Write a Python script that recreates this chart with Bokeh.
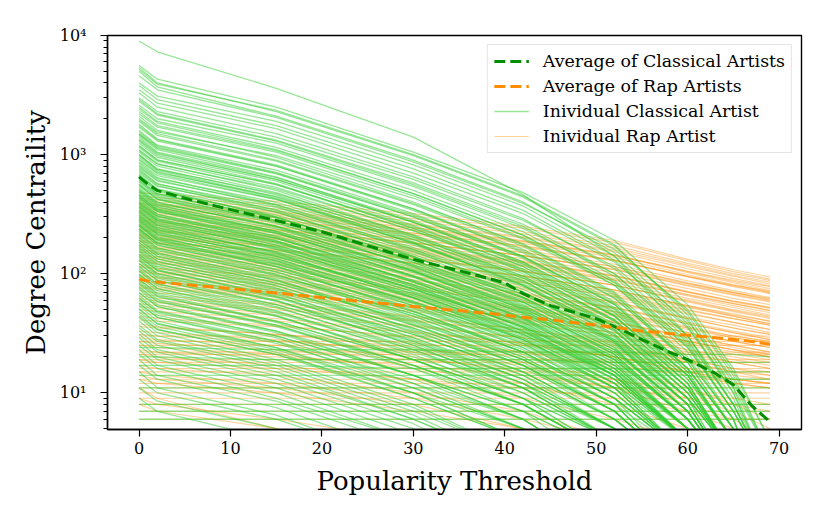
from bokeh.plotting import figure
from bokeh.models import Range1d, FixedTicker, CustomJSTickFormatter, Legend, LegendItem
from bokeh.embed import file_html
from bokeh.resources import INLINE

# popularity thresholds at which each artist's degree is listed
thresholds = [0, 2, 15, 30, 42, 52, 60, 65, 69]

classical_lines = [
    [9000, 7300, 3600, 1400, 460, 140, 30, 8, 2],
    [5600, 4300, 2500, 1050, 480, 190, 55, 16, 4],
    [5400, 4000, 2300, 980, 440, 170, 48, 14, 3],
    [5200, 3900, 2350, 1000, 450, 175, 45, 12, 3],
    [5000, 3700, 2100, 900, 400, 150, 42, 11, 2],
    [4600, 3500, 2050, 870, 390, 160, 50, 15, 4],
    [4000, 3100, 1900, 820, 370, 140, 38, 10, 2],
    [3800, 2900, 1750, 760, 340, 130, 36, 10, 2],
    [3500, 2700, 1650, 700, 320, 125, 40, 13, 3],
    [3300, 2500, 1500, 650, 290, 110, 30, 8, 2],
    [3000, 2300, 1400, 620, 280, 115, 35, 11, 3],
    [2900, 2200, 1320, 580, 260, 100, 28, 8, 2],
    [2800, 2150, 1300, 560, 250, 95, 26, 7, 2],
    [2600, 2000, 1250, 540, 240, 100, 30, 9, 2],
    [2500, 1900, 1150, 500, 225, 88, 25, 7, 2],
    [2400, 1850, 1100, 470, 210, 80, 22, 6, 1],
    [2300, 1750, 1080, 470, 212, 84, 24, 7, 2],
    [2200, 1700, 1050, 450, 200, 85, 27, 8, 2],
    [2100, 1600, 950, 400, 175, 68, 18, 5, 1],
    [2000, 1550, 980, 430, 195, 80, 24, 7, 2],
    [1950, 1500, 900, 390, 178, 70, 20, 6, 1],
    [1900, 1450, 880, 380, 170, 66, 19, 6, 1],
    [1800, 1350, 820, 350, 150, 58, 16, 5, 1],
    [1750, 1330, 800, 350, 160, 63, 18, 5, 1],
    [1700, 1300, 800, 340, 155, 62, 19, 6, 1],
    [1600, 1200, 740, 320, 140, 55, 15, 4, 1],
    [1550, 1180, 710, 310, 140, 56, 16, 5, 1],
    [1500, 1150, 700, 300, 135, 52, 16, 5, 1],
    [1480, 1130, 690, 300, 138, 55, 16, 5, 1],
    [1450, 1100, 650, 270, 120, 45, 12, 3, 1],
    [1400, 1050, 640, 280, 125, 50, 14, 4, 1],
    [1350, 1030, 620, 270, 122, 48, 14, 4, 1],
    [1320, 1010, 620, 272, 126, 51, 15, 4, 1],
    [1300, 980, 600, 255, 115, 44, 13, 4, 1],
    [1250, 950, 570, 240, 105, 40, 11, 3, 1],
    [1200, 900, 560, 240, 110, 44, 14, 4, 1],
    [1180, 905, 560, 248, 115, 47, 14, 4, 1],
    [1150, 880, 530, 230, 104, 41, 12, 3, 1],
    [1100, 840, 500, 210, 95, 36, 10, 3, 1],
    [1080, 830, 515, 230, 108, 44, 13, 4, 1],
    [1050, 800, 480, 205, 92, 37, 11, 3, 1],
    [1000, 760, 460, 195, 88, 34, 9, 2, 1],
    [1000, 740, 440, 185, 80, 30, 8, 2, 1],
    [980, 750, 470, 212, 100, 41, 12, 3, 1],
    [950, 720, 430, 180, 80, 31, 9, 3, 1],
    [920, 705, 445, 202, 96, 40, 12, 3, 1],
    [900, 690, 420, 180, 82, 33, 10, 3, 1],
    [870, 665, 420, 192, 92, 38, 11, 3, 1],
    [850, 640, 380, 160, 70, 27, 7, 2, 1],
    [820, 628, 398, 182, 87, 36, 11, 3, 1],
    [800, 610, 370, 155, 70, 28, 8, 2, 1],
    [780, 600, 380, 175, 85, 36, 11, 3, 1],
    [760, 570, 340, 140, 62, 24, 6, 2, 1],
    [740, 566, 360, 166, 80, 34, 10, 3, 1],
    [720, 550, 330, 140, 64, 26, 8, 2, 1],
    [700, 540, 345, 160, 78, 33, 10, 3, 1],
    [680, 510, 300, 125, 55, 21, 6, 2, 1],
    [670, 513, 328, 152, 74, 31, 9, 3, 1],
    [650, 500, 300, 130, 58, 23, 7, 2, 1],
    [640, 490, 310, 145, 70, 30, 9, 3, 1],
    [620, 470, 280, 115, 50, 19, 5, 1, 1],
    [610, 470, 295, 138, 67, 29, 9, 3, 1],
    [600, 460, 296, 138, 67, 28, 9, 2, 1],
    [590, 450, 270, 115, 52, 21, 6, 2, 1],
    [570, 440, 280, 130, 63, 27, 8, 2, 1],
    [560, 420, 250, 105, 46, 18, 5, 1, 1],
    [555, 426, 275, 129, 63, 27, 8, 2, 1],
    [545, 420, 265, 124, 60, 26, 8, 2, 1],
    [530, 400, 245, 105, 48, 19, 6, 2, 1],
    [515, 395, 250, 118, 57, 24, 7, 2, 1],
    [505, 388, 252, 119, 58, 25, 8, 2, 1],
    [500, 380, 225, 95, 42, 16, 4, 1, 1],
    [490, 375, 238, 112, 54, 23, 7, 2, 1],
    [480, 365, 220, 95, 43, 17, 5, 1, 1],
    [470, 360, 228, 106, 51, 22, 7, 2, 1],
    [460, 345, 205, 86, 38, 14, 4, 1, 1],
    [455, 350, 228, 108, 53, 23, 7, 2, 1],
    [450, 345, 218, 102, 49, 21, 6, 2, 1],
    [440, 335, 200, 85, 39, 15, 4, 1, 1],
    [435, 335, 218, 104, 51, 22, 7, 2, 1],
    [430, 330, 208, 97, 47, 20, 6, 2, 1],
    [420, 315, 190, 80, 35, 13, 4, 1, 1],
    [410, 315, 198, 93, 45, 19, 6, 2, 1],
    [400, 305, 185, 78, 35, 14, 4, 1, 1],
    [395, 304, 198, 95, 47, 20, 6, 2, 1],
    [390, 300, 189, 88, 42, 18, 5, 1, 1],
    [385, 290, 175, 74, 33, 13, 4, 1, 1],
    [375, 288, 181, 85, 41, 17, 5, 1, 1],
    [370, 280, 165, 70, 31, 12, 3, 1, 1],
    [365, 281, 184, 88, 43, 19, 6, 2, 1],
    [360, 276, 174, 81, 39, 16, 5, 1, 1],
    [355, 270, 162, 75, 36, 15, 5, 2, 1],
    [345, 265, 167, 78, 37, 16, 5, 1, 1],
    [340, 255, 150, 63, 28, 11, 3, 1, 1],
    [335, 258, 169, 81, 40, 17, 5, 1, 1],
    [330, 253, 160, 75, 36, 15, 4, 1, 1],
    [325, 245, 148, 63, 29, 11, 3, 1, 1],
    [315, 242, 152, 71, 34, 14, 4, 1, 1],
    [310, 235, 140, 66, 32, 14, 5, 2, 1],
    [305, 235, 154, 74, 36, 16, 5, 1, 1],
    [300, 230, 145, 68, 33, 14, 4, 1, 1],
    [295, 225, 135, 57, 26, 10, 3, 1, 1],
    [288, 221, 139, 65, 31, 13, 4, 1, 1],
    [285, 215, 128, 54, 24, 9, 2, 1, 1],
    [280, 216, 142, 68, 33, 15, 4, 1, 1],
    [275, 211, 133, 62, 30, 12, 4, 1, 1],
    [270, 205, 123, 58, 28, 12, 4, 1, 1],
    [262, 201, 127, 59, 28, 12, 3, 1, 1],
    [260, 195, 116, 49, 22, 8, 2, 1, 1],
    [255, 197, 130, 63, 31, 14, 4, 1, 1],
    [250, 190, 114, 48, 22, 9, 3, 1, 1],
    [250, 192, 121, 56, 27, 11, 3, 1, 1],
    [240, 180, 108, 52, 25, 11, 4, 1, 1],
    [238, 183, 115, 54, 26, 11, 3, 1, 1],
    [235, 181, 120, 58, 29, 13, 4, 1, 1],
    [230, 175, 104, 44, 20, 8, 2, 1, 1],
    [226, 173, 109, 51, 24, 10, 3, 1, 1],
    [220, 165, 99, 42, 19, 7, 2, 1, 1],
    [214, 164, 103, 48, 23, 10, 3, 1, 1],
    [210, 160, 96, 46, 22, 9, 3, 1, 1],
    [203, 156, 98, 46, 22, 9, 3, 1, 1],
    [200, 150, 90, 38, 17, 7, 2, 1, 1],
    [193, 148, 93, 44, 21, 9, 3, 1, 1],
    [192, 145, 88, 37, 17, 6, 2, 1, 1],
    [184, 140, 83, 40, 19, 8, 3, 1, 1],
    [183, 140, 88, 41, 20, 8, 2, 1, 1],
    [176, 133, 80, 34, 15, 6, 2, 1, 1],
    [173, 133, 84, 39, 19, 8, 2, 1, 1],
    [168, 127, 76, 32, 14, 5, 2, 1, 1],
    [164, 126, 79, 37, 18, 7, 2, 1, 1],
    [160, 121, 73, 35, 17, 7, 2, 1, 1],
    [155, 119, 75, 35, 17, 7, 2, 1, 1],
    [152, 115, 69, 29, 13, 5, 1, 1, 1],
    [146, 112, 71, 33, 16, 7, 2, 1, 1],
    [145, 108, 65, 27, 12, 4, 1, 1, 1],
    [140, 106, 64, 31, 15, 6, 2, 1, 1],
    [138, 106, 67, 31, 15, 6, 2, 1, 1],
    [134, 100, 60, 25, 11, 4, 1, 1, 1],
    [130, 100, 63, 29, 14, 6, 2, 1, 1],
    [128, 97, 59, 25, 11, 4, 1, 1, 1],
    [122, 92, 55, 27, 13, 5, 2, 1, 1],
    [122, 94, 59, 28, 13, 5, 2, 1, 1],
    [116, 88, 53, 23, 10, 4, 1, 1, 1],
    [114, 88, 55, 26, 12, 5, 1, 1, 1],
    [110, 82, 49, 21, 9, 3, 1, 1, 1],
    [106, 82, 52, 24, 12, 5, 1, 1, 1],
    [105, 79, 48, 23, 11, 5, 2, 1, 1],
    [100, 75, 45, 19, 8, 3, 1, 1, 1],
    [98, 75, 47, 22, 11, 4, 1, 1, 1],
    [95, 72, 44, 19, 9, 3, 1, 1, 1],
    [90, 67, 40, 19, 9, 4, 1, 1, 1],
    [90, 69, 44, 20, 10, 4, 1, 1, 1],
    [86, 65, 39, 17, 8, 3, 1, 1, 1],
    [83, 64, 40, 19, 9, 4, 1, 1, 1],
    [82, 61, 37, 16, 7, 2, 1, 1, 1],
    [78, 59, 36, 17, 8, 3, 1, 1, 1],
    [76, 58, 37, 17, 8, 3, 1, 1, 1],
    [74, 55, 33, 14, 6, 2, 1, 1, 1],
    [70, 53, 32, 14, 6, 2, 1, 1, 1],
    [69, 53, 33, 16, 8, 3, 1, 1, 1],
    [66, 49, 30, 14, 7, 3, 1, 1, 1],
    [63, 47, 29, 12, 5, 2, 1, 1, 1],
    [62, 48, 30, 14, 7, 3, 1, 1, 1],
    [60, 45, 27, 11, 5, 1, 1, 1, 1],
    [57, 43, 26, 12, 6, 2, 1, 1, 1],
    [56, 43, 27, 13, 6, 2, 1, 1, 1],
    [54, 40, 24, 10, 4, 1, 1, 1, 1],
    [51, 38, 23, 10, 4, 1, 1, 1, 1],
    [50, 38, 24, 11, 5, 2, 1, 1, 1],
    [48, 36, 22, 9, 4, 1, 1, 1, 1],
    [46, 34, 21, 9, 4, 1, 1, 1, 1],
    [44, 34, 21, 10, 5, 2, 1, 1, 1],
    [43, 32, 19, 8, 3, 1, 1, 1, 1],
    [40, 30, 18, 7.5, 3, 1, 1, 1, 1],
    [37, 28, 17, 7, 3, 1, 1, 1, 1],
    [35, 27, 16, 6.5, 2.5, 1, 1, 1, 1],
    [33, 25, 15, 6, 2.5, 1, 1, 1, 1],
    [31, 23, 14, 6, 2.5, 1, 1, 1, 1],
    [29, 22, 13, 5.5, 2, 1, 1, 1, 1],
    [27, 20, 12, 5, 2, 1, 1, 1, 1],
    [25, 19, 11, 4.5, 2, 1, 1, 1, 1],
    [23, 17, 10, 4, 1.5, 1, 1, 1, 1],
    [21, 16, 9, 4, 1.5, 1, 1, 1, 1],
    [19, 14, 8.5, 3.5, 1, 1, 1, 1, 1],
    [17, 13, 7.5, 3, 1, 1, 1, 1, 1],
    [15, 11, 6.5, 2.5, 1, 1, 1, 1, 1],
    [13, 10, 6, 2.5, 1, 1, 1, 1, 1],
    [11, 8.5, 5, 2, 1, 1, 1, 1, 1],
    [9, 7, 4, 1.5, 1, 1, 1, 1, 1],
    [24, 24, 23, 23, 22, 22, 21, 21, 20],
    [20, 20, 19, 19, 19, 18, 18, 18, 18],
    [17, 17, 17, 16, 16, 16, 15, 15, 15],
    [14, 14, 14, 14, 14, 14, 14, 13, 13],
]
classical_flat_levels = [6, 7, 8, 11]

rap_lines = [
    [480, 465, 405, 320, 250, 190, 132, 108, 94],
    [450, 436, 382, 305, 240, 183, 128, 104, 90],
    [430, 415, 365, 290, 225, 172, 122, 100, 88],
    [415, 400, 350, 278, 216, 165, 118, 97, 85],
    [400, 385, 335, 262, 205, 158, 115, 95, 82],
    [390, 376, 328, 256, 200, 153, 110, 91, 79],
    [380, 370, 320, 245, 190, 145, 104, 86, 75],
    [370, 356, 310, 242, 188, 143, 102, 84, 72],
    [360, 345, 300, 235, 185, 142, 105, 88, 78],
    [350, 337, 294, 230, 180, 137, 98, 81, 70],
    [340, 325, 282, 220, 172, 130, 94, 78, 68],
    [330, 318, 278, 218, 170, 130, 95, 79, 69],
    [320, 308, 270, 212, 166, 128, 95, 80, 71],
    [310, 298, 260, 203, 158, 120, 87, 72, 63],
    [300, 288, 250, 195, 152, 115, 84, 70, 62],
    [292, 281, 245, 192, 150, 114, 83, 69, 60],
    [285, 272, 236, 183, 142, 108, 80, 67, 59],
    [278, 267, 233, 182, 142, 108, 79, 66, 58],
    [270, 260, 228, 180, 142, 110, 82, 69, 61],
    [262, 252, 220, 172, 134, 102, 75, 62, 55],
    [255, 244, 212, 165, 128, 97, 71, 59, 52],
    [248, 238, 208, 162, 126, 96, 70, 58, 51],
    [240, 230, 202, 158, 124, 95, 70, 59, 52],
    [235, 226, 197, 154, 120, 91, 67, 56, 49],
    [230, 221, 193, 150, 117, 89, 65, 54, 47],
    [220, 212, 186, 146, 115, 88, 66, 56, 49],
    [215, 207, 181, 141, 110, 84, 62, 52, 45],
    [210, 201, 175, 136, 106, 80, 58, 48, 42],
    [205, 197, 172, 134, 105, 80, 59, 49, 43],
    [200, 192, 169, 132, 104, 80, 60, 50, 44],
    [192, 184, 160, 124, 96, 73, 53, 44, 38],
    [188, 181, 158, 123, 96, 73, 54, 45, 40],
    [184, 177, 155, 121, 95, 73, 54, 46, 40],
    [176, 169, 148, 116, 91, 70, 52, 44, 38],
    [172, 165, 144, 112, 88, 67, 50, 42, 37],
    [168, 161, 140, 109, 85, 64, 47, 39, 34],
    [160, 154, 135, 106, 84, 65, 49, 42, 37],
    [156, 150, 131, 102, 80, 61, 46, 39, 34],
    [152, 146, 127, 99, 77, 58, 42, 35, 31],
    [145, 139, 122, 95, 75, 58, 43, 37, 32],
    [142, 136, 119, 93, 73, 56, 42, 35, 31],
    [138, 132, 115, 89, 69, 52, 38, 32, 28],
    [132, 127, 111, 87, 68, 52, 39, 33, 29],
    [128, 123, 108, 84, 66, 51, 38, 32, 28],
    [126, 121, 105, 82, 64, 48, 35, 29, 26],
    [120, 115, 101, 79, 62, 48, 36, 30, 27],
    [116, 111, 97, 76, 60, 46, 35, 30, 27],
    [114, 109, 95, 74, 58, 44, 32, 27, 24],
    [108, 104, 92, 73, 58, 45, 34, 29, 26],
    [105, 101, 88, 69, 54, 42, 32, 27, 24],
    [103, 99, 86, 67, 52, 40, 29, 24, 21],
    [98, 94, 83, 65, 51, 39, 29, 25, 22],
    [96, 92, 81, 63, 50, 39, 30, 25, 22],
    [93, 89, 78, 61, 48, 37, 27, 23, 20],
    [88, 85, 75, 59, 47, 36, 27, 23, 21],
    [86, 83, 73, 57, 45, 35, 27, 23, 20],
    [84, 80, 70, 54, 42, 32, 23, 19, 17],
    [80, 77, 68, 54, 43, 34, 26, 22, 20],
    [78, 75, 66, 52, 41, 32, 25, 21, 19],
    [76, 73, 64, 50, 39, 30, 22, 18, 16],
    [72, 69, 61, 48, 38, 30, 23, 20, 18],
    [68, 65, 57, 44, 34, 26, 19, 16, 14],
    [65, 62, 55, 43, 34, 27, 21, 18, 16],
    [62, 59, 52, 41, 32, 24, 18, 15, 13],
    [59, 57, 50, 40, 32, 25, 19, 16, 15],
    [56, 54, 47, 37, 29, 22, 16, 13, 12],
    [53, 51, 45, 36, 29, 23, 18, 15, 14],
    [50, 48, 42, 33, 26, 20, 15, 12, 11],
    [47, 45, 40, 32, 26, 20, 15, 13, 12],
    [44, 42, 37, 29, 22, 16, 11, 8, 6],
    [41, 40, 36, 30, 25, 20, 16, 14, 13],
    [38, 36, 31, 24, 18, 13, 9, 7, 5],
    [36, 35, 31, 26, 22, 18, 15, 13, 12],
    [33, 32, 28, 22, 17, 12, 8, 6, 4],
    [31, 30, 27, 23, 20, 17, 14, 12, 11],
    [29, 28, 25, 20, 15, 11, 7, 5, 3],
    [27, 26, 23, 19, 16, 13, 10, 9, 8],
    [25, 24, 21, 16, 12, 8, 5, 3, 2],
    [23, 22, 20, 17, 14, 11, 9, 8, 7],
    [21, 20, 17, 13, 9, 6, 4, 3, 2],
    [19, 18, 16, 13, 11, 9, 7, 6, 6],
    [17, 16, 14, 10, 7, 4, 2, 1, 1],
    [15, 14, 12, 9, 6, 4, 2, 1, 1],
    [13, 12, 10, 7, 5, 3, 2, 1, 1],
    [14, 13, 11, 8, 5, 3, 1, 1, 1],
    [11, 9, 5, 2, 1, 1, 1, 1, 1],
    [9, 8, 6, 4, 2, 1, 1, 1, 1],
    [8, 7, 5, 3, 1, 1, 1, 1, 1],
]
rap_flat_levels = [6, 7, 8, 9, 10, 11, 12, 13, 15, 16, 18, 19, 21, 22, 25, 27, 30]

avg_thresholds = [0, 1, 2, 5, 10, 15, 20, 25, 30, 35, 40, 42, 45, 50, 52, 55, 58, 60, 63, 65, 67, 69]
classical_avg = [650, 560, 500, 430, 345, 280, 225, 172, 132, 106, 84, 68, 54, 42, 36, 28, 22, 19, 14.6, 11.7, 7.8, 5.7]
rap_avg = [90, 87, 85, 81, 75, 69, 63, 58, 53, 49, 45, 43, 41, 37, 35.5, 33, 31.5, 30.5, 29, 28, 27, 25.5]

x_ticks = [0, 10, 20, 30, 40, 50, 60, 70]
y_ticks = [10, 100, 1000, 10000]
y_minor_ticks = [m * 10 ** k for k in range(0, 4) for m in range(2, 10) if m * 10 ** k >= 5]

FONT = "DejaVu Serif"

p = figure(width=814, height=507, y_axis_type="log",
           x_range=Range1d(-3.45, 72.45), y_range=Range1d(4.92, 10000),
           output_backend="svg", toolbar_location=None,
           min_border_left=107, min_border_right=13, min_border_top=35, min_border_bottom=78)

first, last = thresholds[0], thresholds[-1]
rap_xs = [thresholds] * len(rap_lines) + [[first, last]] * len(rap_flat_levels)
rap_ys = rap_lines + [[lv, lv] for lv in rap_flat_levels]
cls_xs = [thresholds] * len(classical_lines) + [[first, last]] * len(classical_flat_levels)
cls_ys = classical_lines + [[lv, lv] for lv in classical_flat_levels]

r_rap = p.multi_line(rap_xs, rap_ys, line_color="#FF8C00", line_alpha=0.38, line_width=1.2)
r_cls = p.multi_line(cls_xs, cls_ys, line_color="#32CD32", line_alpha=0.5, line_width=1.3)
r_cavg = p.line(avg_thresholds, classical_avg, line_color="#008F00", line_width=3, line_dash="11 5")
r_ravg = p.line(avg_thresholds, rap_avg, line_color="#FF8C00", line_width=3, line_dash="11 5")

p.xgrid.visible = False
p.ygrid.visible = False
p.outline_line_color = "black"
p.outline_line_width = 1.4
p.outline_line_alpha = 1.0
p.background_fill_color = "white"
p.border_fill_color = "white"

p.xaxis.ticker = FixedTicker(ticks=x_ticks, minor_ticks=[])
p.yaxis.ticker = FixedTicker(ticks=y_ticks, minor_ticks=y_minor_ticks)
p.yaxis.formatter = CustomJSTickFormatter(code="""
const sup = ["\u2070", "\u00b9", "\u00b2", "\u00b3", "\u2074", "\u2075"];
const e = Math.round(Math.log10(tick));
return "10" + sup[e];
""")

for ax in (p.xaxis[0], p.yaxis[0]):
    ax.axis_line_color = "black"
    ax.axis_line_width = 1.4
    ax.major_tick_line_color = "black"
    ax.major_tick_line_width = 1.2
    ax.minor_tick_line_color = "black"
    ax.minor_tick_line_width = 1.0
    ax.major_tick_out = 7
    ax.major_tick_in = 0
    ax.minor_tick_out = 4
    ax.minor_tick_in = 0
    ax.major_label_text_font = FONT
    ax.major_label_text_font_size = "16px"
    ax.major_label_text_color = "black"
    ax.axis_label_text_font = FONT
    ax.axis_label_text_font_size = "26px"
    ax.axis_label_text_font_style = "normal"
    ax.axis_label_text_color = "black"

p.xaxis.axis_label = "Popularity Threshold"
p.yaxis.axis_label = "Degree Centraility"
p.xaxis.major_label_standoff = 5
p.xaxis.axis_label_standoff = 9
p.yaxis.major_label_standoff = 14
p.yaxis.axis_label_standoff = 6

legend = Legend(items=[
    LegendItem(label="Average of Classical Artists", renderers=[r_cavg]),
    LegendItem(label="Average of Rap Artists", renderers=[r_ravg]),
    LegendItem(label="Inividual Classical Artist", renderers=[r_cls]),
    LegendItem(label="Inividual Rap Artist", renderers=[r_rap]),
], location="top_right")
legend.label_text_font = FONT
legend.label_text_font_size = "17.4px"
legend.label_text_color = "black"
legend.glyph_width = 35
legend.glyph_height = 20
legend.label_height = 20
legend.label_standoff = 14
legend.spacing = 5
legend.padding = 6
legend.margin = 9
legend.border_line_color = "#cccccc"
legend.border_line_width = 1.2
legend.background_fill_alpha = 0.85
p.add_layout(legend)

with open("out.html", "w", encoding="utf-8") as f:
    f.write(file_html(p, INLINE))
